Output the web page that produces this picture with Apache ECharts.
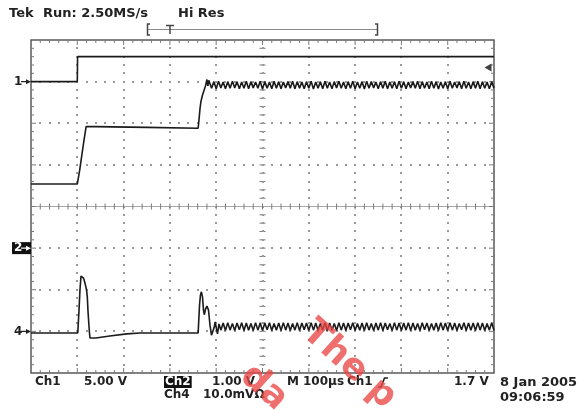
<!DOCTYPE html>
<html>
<head>
<meta charset="utf-8">
<script src="https://cdn.jsdelivr.net/npm/echarts@6/dist/echarts.min.js"></script>
<style>
  html, body { margin: 0; padding: 0; background: #fff; }
  #main { width: 580px; height: 410px; }
</style>
</head>
<body>
<div id="main"></div>
<script>
// ---- Acquisition settings ----
const timePerDiv = 100;          // µs per division
const ch1VoltsPerDiv = 5;        // V
const ch2VoltsPerDiv = 1;        // V
const ch4MilliVoltsPerDiv = 10;  // mV
const ch1GroundDiv = 7;          // ground marker positions, divisions from bottom
const ch2GroundDiv = 3;
const ch4GroundDiv = 1;
const triggerLevel = 1.7;        // V on Ch1
const sampleHalfPeriod = 5;      // µs between ripple extremes

// ---- Ch1 (enable step) ----
const ch1Times = [0, 100, 100.6, 1000];
const ch1Volts = [0, 0, 3.0, 3.0];

// ---- Ch2 (output voltage) ----
const ch2Times = [0, 100, 101, 105, 110, 115, 119, 122, 140, 250,
                  361, 363, 365, 367, 370, 374, 377, 380, 382, 384];
const ch2Volts = [1.54, 1.54, 1.56, 1.86, 2.25, 2.63, 2.92, 2.94, 2.92, 2.9,
                  2.88, 3.1, 3.35, 3.52, 3.66, 3.8, 3.9, 4.05, 3.9, 4.03];
const ch2RippleStart = 390;
const ch2Ripple = [
  3.84,4.00,3.83,4.01,3.85,3.99,3.83,4.00,3.84,4.01,
  3.85,4.00,3.83,3.99,3.84,4.01,3.83,4.00,3.85,3.99,
  3.84,4.01,3.82,4.00,3.84,3.99,3.83,4.01,3.84,4.00,
  3.83,3.99,3.85,4.00,3.84,4.01,3.83,4.00,3.84,3.99,
  3.83,4.00,3.84,4.01,3.82,3.99,3.84,4.00,3.83,4.01,
  3.84,3.99,3.83,4.00,3.85,4.01,3.84,3.99,3.83,4.00,
  3.84,4.01,3.83,3.99,3.84,4.00,3.82,4.01,3.84,4.00,
  3.85,3.99,3.83,4.00,3.84,4.01,3.83,3.99,3.84,4.00,
  3.83,4.01,3.84,4.00,3.83,3.99,3.85,4.00,3.84,4.01,
  3.83,4.00,3.84,3.99,3.83,4.01,3.84,4.00,3.82,3.99,
  3.84,4.00,3.83,4.01,3.84,3.99,3.85,4.00,3.83,4.01,
  3.84,3.99,3.83,4.00,3.84,4.01,3.83,4.00,3.84,3.99,
  3.83,4.00,3.84
];

// ---- Ch4 (current sense, mV) ----
const ch4Times = [0, 101, 102, 103.7, 105.8, 108, 110, 113.4, 116.6, 119.9,
                  121.6, 123, 124.6, 126.3, 127.4, 131.7, 140, 170, 207, 235,
                  361, 364, 366, 368, 370.4, 372.5, 374.3, 377, 380, 383.4,
                  386.6, 389.8, 392.4, 395.2, 397.8, 400.6, 402.8, 406];
const ch4MilliVolts = [-0.4, -0.4, 0, 5.1, 10, 13.3, 13.6, 12.8, 11.6, 10,
                       8.3, 5.1, 2.3, -0.4, -1.6, -1.8, -1.6, -1.1, -0.6, -0.4,
                       -0.4, 6.3, 8.7, 9.5, 8.3, 5.1, 4, 5.4, 6.1, 5.1,
                       1.5, -0.9, -1.3, 0.8, 2.3, 0.6, -0.6, 1.8];
const ch4RippleStart = 410;
const ch4Ripple = [
  0.3,2.0,0.2,2.1,0.3,1.9,0.2,2.0,0.4,2.1,
  0.2,2.0,0.3,1.9,0.2,2.1,0.3,2.0,0.2,2.0,
  0.4,2.1,0.2,1.9,0.3,2.0,0.2,2.1,0.3,2.0,
  0.2,1.9,0.3,2.1,0.2,2.0,0.4,2.0,0.2,2.1,
  0.3,2.0,0.2,1.9,0.3,2.1,0.2,2.0,0.3,1.9,
  0.2,2.1,0.3,2.0,0.2,2.0,0.4,2.1,0.2,1.9,
  0.3,2.0,0.2,2.1,0.3,1.9,0.2,2.0,0.3,2.1,
  0.2,2.0,0.4,1.9,0.2,2.1,0.3,2.0,0.2,2.0,
  0.3,2.1,0.2,2.0,0.3,1.9,0.2,2.1,0.4,2.0,
  0.2,1.9,0.3,2.0,0.2,2.1,0.3,2.0,0.2,2.1,
  0.3,2.0,0.2,1.9,0.4,2.1,0.2,2.0,0.3,2.0,
  0.2,2.1,0.3,2.0,0.2,1.9,0.3,2.1,0.2
];

// ---- Screen geometry ----
const DIVS_X = 10, DIVS_Y = 8, MINOR = 5;
const GRID = { left: 31, top: 40, width: 463, height: 333 };
const divH = GRID.height / DIVS_Y;
const groundY = d => GRID.top + (DIVS_Y - d) * divH;

const traceColor = '#1b1b1b';
const textColor = '#222';
const dotColor = '#9a9a9a';
const tickColor = '#7a7a7a';
const font = 'bold 12px "DejaVu Sans", Verdana, sans-serif';
const fontL = 'bold 13px "DejaVu Sans", Verdana, sans-serif';
const stampFont = 'bold 36px "DejaVu Sans", sans-serif';
const stampColor = 'rgba(234,70,70,0.78)';

function pairs(ts, vs) { return ts.map((t, i) => [t, vs[i]]); }
function ripplePairs(start, vs) { return vs.map((v, i) => [start + i * sampleHalfPeriod, v]); }

// Tek-style graticule: dotted divisions, ticked centre lines and edge ticks
function renderGraticule(params, api) {
  const els = [];
  const at = (t, d) => api.coord([t, d]);
  const tMax = timePerDiv * DIVS_X;
  const xSteps = DIVS_X * MINOR, ySteps = DIVS_Y * MINOR;
  const dot = p => els.push({ type: 'rect',
    shape: { x: Math.round(p[0]) - 1, y: Math.round(p[1]) - 1, width: 2, height: 2 },
    style: { fill: dotColor } });
  const seg = (a, b, c, w) => els.push({ type: 'line',
    shape: { x1: a[0], y1: a[1], x2: b[0], y2: b[1] },
    style: { stroke: c, lineWidth: w } });

  for (let i = 1; i < DIVS_X; i++) {
    const t = i * timePerDiv;
    for (let k = 1; k < ySteps; k++) {
      const p = at(t, k / MINOR);
      if (i === DIVS_X / 2) seg([p[0] - 3, p[1]], [p[0] + 3, p[1]], tickColor, 1);
      dot(p);
    }
  }
  for (let j = 1; j < DIVS_Y; j++) {
    if (j === DIVS_Y / 2) {
      const a = at(0, j), b = at(tMax, j);
      seg(a, b, '#a8a8a8', 1);
      for (let m = 1; m < xSteps; m++) {
        const p = at(m * timePerDiv / MINOR, j);
        seg([p[0], p[1] - 3], [p[0], p[1] + 3], tickColor, 1);
      }
      continue;
    }
    for (let m = 1; m < xSteps; m++) dot(at(m * timePerDiv / MINOR, j));
  }
  for (let m = 1; m < xSteps; m++) {
    const t = m * timePerDiv / MINOR;
    const len = m % MINOR === 0 ? 5 : 3;
    const top = at(t, DIVS_Y), bot = at(t, 0);
    seg(top, [top[0], top[1] + len], tickColor, 1);
    seg(bot, [bot[0], bot[1] - len], tickColor, 1);
  }
  for (let k = 1; k < ySteps; k++) {
    const len = k % MINOR === 0 ? 5 : 3;
    const l = at(0, k / MINOR), r = at(tMax, k / MINOR);
    seg(l, [l[0] + len, l[1]], tickColor, 1);
    seg(r, [r[0] - len, r[1]], tickColor, 1);
  }
  return { type: 'group', children: els };
}

function groundMarker(text, div, boxed) {
  const y = groundY(div);
  const fg = boxed ? '#fff' : textColor;
  const items = [];
  if (boxed) items.push({ type: 'rect', shape: { x: 12, y: y - 6, width: 19, height: 12 }, style: { fill: '#111' }, z: 10 });
  items.push({ type: 'text', x: 14, y: y, z: 11, style: { text: text, font: font, fill: fg, verticalAlign: 'middle', textVerticalAlign: 'middle' } });
  items.push({ type: 'line', z: 11, shape: { x1: 21, y1: y, x2: 29, y2: y }, style: { stroke: fg, lineWidth: 1.2 } });
  items.push({ type: 'polygon', z: 11, shape: { points: [[26, y - 2.5], [31, y], [26, y + 2.5]] }, style: { fill: fg } });
  return items;
}

function label(text, x, y, opts) {
  return { type: 'text', x: x, y: y, z: 10,
    style: Object.assign({ text: text, font: font, fill: textColor,
      verticalAlign: 'middle', textVerticalAlign: 'middle' }, opts || {}) };
}

const chart = echarts.init(document.getElementById('main'), null, { renderer: 'canvas' });

const option = {
  animation: false,
  backgroundColor: '#fff',
  grid: Object.assign({ show: true, borderColor: '#5a5a5a', borderWidth: 1.5, backgroundColor: 'transparent' }, GRID),
  xAxis: [{ type: 'value', min: 0, max: timePerDiv * DIVS_X, interval: timePerDiv, show: false }],
  yAxis: [
    { type: 'value', min: 0, max: DIVS_Y, show: false },
    { type: 'value', min: -ch1GroundDiv * ch1VoltsPerDiv, max: (DIVS_Y - ch1GroundDiv) * ch1VoltsPerDiv, show: false },
    { type: 'value', min: -ch2GroundDiv * ch2VoltsPerDiv, max: (DIVS_Y - ch2GroundDiv) * ch2VoltsPerDiv, show: false },
    { type: 'value', min: -ch4GroundDiv * ch4MilliVoltsPerDiv, max: (DIVS_Y - ch4GroundDiv) * ch4MilliVoltsPerDiv, show: false }
  ],
  series: [
    { type: 'custom', name: 'graticule', xAxisIndex: 0, yAxisIndex: 0, data: [[0, 0]],
      renderItem: renderGraticule, silent: true, clip: false, z: 1 },
    { type: 'line', name: 'Ch1', xAxisIndex: 0, yAxisIndex: 1, data: pairs(ch1Times, ch1Volts),
      symbol: 'none', lineStyle: { color: traceColor, width: 1.6 }, z: 3 },
    { type: 'line', name: 'Ch2', xAxisIndex: 0, yAxisIndex: 2,
      data: pairs(ch2Times, ch2Volts).concat(ripplePairs(ch2RippleStart, ch2Ripple)),
      symbol: 'none', lineStyle: { color: traceColor, width: 1.6 }, z: 3 },
    { type: 'line', name: 'Ch4', xAxisIndex: 0, yAxisIndex: 3,
      data: pairs(ch4Times, ch4MilliVolts).concat(ripplePairs(ch4RippleStart, ch4Ripple)),
      symbol: 'none', lineStyle: { color: traceColor, width: 1.6 }, z: 3 },
    { type: 'scatter', name: 'trigger', xAxisIndex: 0, yAxisIndex: 1,
      data: [[timePerDiv * DIVS_X, triggerLevel]], symbol: 'path://M0,5L9,0L9,10Z',
      symbolSize: [7, 8], symbolOffset: [-6, 0], itemStyle: { color: '#111' },
      clip: false, silent: true, z: 4 }
  ],
  graphic: [
    // status line
    label('Tek', 9, 14, { font: fontL }),
    label('Run: 2.50MS/s', 43, 14, { font: fontL }),
    label('Hi Res', 178, 14, { font: fontL }),
    // record view bracket
    { type: 'line', shape: { x1: 148, y1: 29.5, x2: 377, y2: 29.5 }, style: { stroke: '#888', lineWidth: 1 } },
    { type: 'polyline', shape: { points: [[150, 24], [147.5, 24], [147.5, 35], [150, 35]] }, style: { stroke: '#444', lineWidth: 1.5, fill: null } },
    { type: 'polyline', shape: { points: [[375, 24], [377.5, 24], [377.5, 35], [375, 35]] }, style: { stroke: '#444', lineWidth: 1.5, fill: null } },
    { type: 'line', shape: { x1: 166, y1: 25.5, x2: 174, y2: 25.5 }, style: { stroke: '#444', lineWidth: 1.5 } },
    { type: 'line', shape: { x1: 170, y1: 25.5, x2: 170, y2: 34 }, style: { stroke: '#444', lineWidth: 1.5 } },
    // channel ground markers
    ...groundMarker('1', ch1GroundDiv, false),
    ...groundMarker('2', ch2GroundDiv, true),
    ...groundMarker('4', ch4GroundDiv, false),
    // readouts
    label('Ch1', 35, 382),
    label(ch1VoltsPerDiv.toFixed(2) + ' V', 84, 382),
    label('Ch2', 164, 382, { fill: '#fff', backgroundColor: '#111', padding: [0, 1, 0, 1] }),
    label(ch2VoltsPerDiv.toFixed(2) + ' V', 212, 382),
    label('M', 287, 382),
    label(timePerDiv + 'µs', 303, 382),
    label('Ch1', 347, 382),
    { type: 'polyline', z: 10, shape: { points: [[378, 387], [381, 387], [384.5, 378], [388, 378]] }, style: { stroke: textColor, lineWidth: 1.6, fill: null } },
    label(triggerLevel + ' V', 454, 382),
    label('Ch4', 164, 395),
    label(ch4MilliVoltsPerDiv.toFixed(1) + 'mVΩ', 203, 395),
    label('8 Jan 2005', 500, 383, { font: fontL }),
    label('09:06:59', 500, 398, { font: fontL }),
    // diagonal red overprint
    { type: 'text', x: 307, y: 327, rotation: -42 * Math.PI / 180, z: 20,
      style: { text: 'The p', font: stampFont, fill: stampColor, verticalAlign: 'middle', textVerticalAlign: 'middle' } },
    { type: 'text', x: 245, y: 371, rotation: -42 * Math.PI / 180, z: 20,
      style: { text: 'da', font: stampFont, fill: stampColor, verticalAlign: 'middle', textVerticalAlign: 'middle' } }
  ]
};

chart.setOption(option);
</script>
</body>
</html>
